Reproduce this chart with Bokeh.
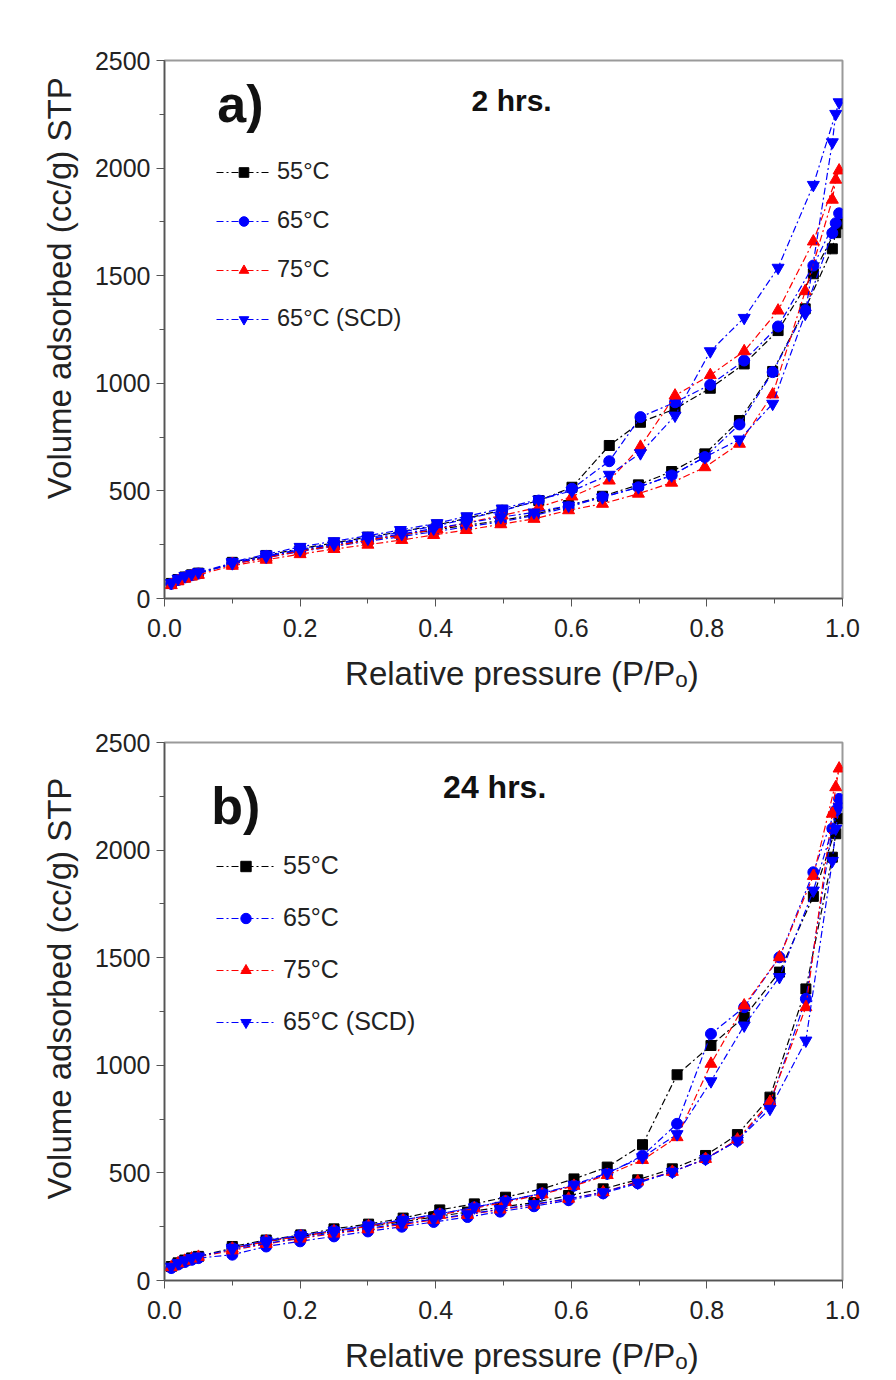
from bokeh.plotting import figure
from bokeh.models import Range1d, FixedTicker, Legend, LegendItem, Label, NumeralTickFormatter
from bokeh.layouts import column
from bokeh.embed import file_html
from bokeh.resources import INLINE

# ---------------- data ----------------
SERIES_LABELS = ["55°C", "65°C", "75°C", "65°C (SCD)"]
X_TICKS = [0.0, 0.2, 0.4, 0.6, 0.8, 1.0]
X_MINOR = [0.1, 0.3, 0.5, 0.7, 0.9]
Y_TICKS = [0, 500, 1000, 1500, 2000, 2500]
Y_MINOR = [250, 750, 1250, 1750, 2250]

# panel a) 2 hrs
A_X_ADS = [0.01, 0.02, 0.03, 0.04, 0.05, 0.10, 0.15, 0.20, 0.25, 0.30, 0.35, 0.397, 0.445,
           0.496, 0.545, 0.596, 0.646, 0.699, 0.748, 0.797, 0.848, 0.897, 0.945, 0.985, 0.99]
A_X_DES = [0.995, 0.957, 0.905, 0.855, 0.805, 0.753, 0.702, 0.656, 0.601, 0.552, 0.498,
           0.446, 0.402, 0.348, 0.30, 0.25, 0.20, 0.15, 0.10]
A_55_ADS = [70, 88, 100, 110, 118, 162, 192, 222, 248, 272, 295, 318, 340, 362, 390, 432, 475,
            528, 590, 672, 827, 1055, 1346, 1625, 1700]
A_55_DES = [1741, 1509, 1245, 1090, 977, 881, 819, 711, 517, 455, 410, 373, 342, 310, 285, 258,
            232, 200, 168]
A_65_ADS = [68, 86, 98, 108, 116, 160, 190, 218, 242, 266, 288, 310, 333, 356, 385, 425, 471,
            517, 572, 657, 809, 1052, 1340, 1698, 1744]
A_65_DES = [1790, 1547, 1264, 1106, 993, 912, 843, 638, 510, 455, 408, 370, 338, 308, 282, 255,
            228, 198, 165]
A_75_ADS = [62, 80, 92, 102, 110, 152, 180, 206, 230, 250, 272, 295, 318, 345, 370, 410, 440,
            487, 538, 610, 719, 948, 1428, 1853, 1946]
A_75_DES = [1989, 1659, 1338, 1149, 1038, 943, 705, 548, 474, 424, 386, 352, 322, 296, 270, 245,
            220, 190, 160]
A_SCD_ADS = [72, 92, 104, 114, 122, 164, 195, 226, 252, 278, 300, 325, 350, 378, 400, 432, 470,
             517, 572, 657, 739, 905, 1323, 2120, 2252]
A_SCD_DES = [2306, 1922, 1537, 1304, 1149, 850, 675, 575, 500, 460, 418, 382, 350, 318, 292, 266,
             240, 205, 170]

# panel b) 24 hrs
B_X_ADS = [0.01, 0.02, 0.03, 0.04, 0.05, 0.10, 0.15, 0.20, 0.25, 0.30, 0.35, 0.397, 0.447,
           0.495, 0.545, 0.596, 0.647, 0.698, 0.749, 0.798, 0.845, 0.893, 0.946, 0.985, 0.99]
B_X_DES = [0.995, 0.957, 0.907, 0.855, 0.806, 0.756, 0.705, 0.653, 0.604, 0.557, 0.503,
           0.457, 0.406, 0.352, 0.301, 0.25, 0.201, 0.15, 0.10]
B_55_ADS = [65, 82, 95, 105, 112, 150, 180, 205, 228, 250, 272, 295, 318, 340, 362, 395, 426,
            468, 519, 581, 678, 852, 1355, 1967, 2076]
B_55_DES = [2146, 1785, 1433, 1224, 1092, 956, 631, 527, 472, 426, 387, 356, 328, 290, 262, 240,
            212, 188, 158]
B_65_ADS = [58, 74, 86, 96, 104, 120, 158, 182, 205, 228, 250, 272, 295, 320, 345, 373, 405,
            452, 505, 565, 650, 820, 1309, 2100, 2184]
B_65_DES = [2238, 1897, 1502, 1270, 1146, 728, 580, 496, 441, 405, 370, 340, 310, 282, 255, 232,
            210, 185, 150]
B_75_ADS = [62, 80, 92, 102, 110, 140, 170, 195, 218, 238, 260, 282, 305, 330, 352, 380, 410,
            460, 505, 565, 655, 830, 1270, 2169, 2292]
B_75_DES = [2379, 1880, 1502, 1278, 1007, 666, 560, 490, 440, 400, 365, 335, 305, 278, 252, 228,
            205, 182, 148]
B_SCD_ADS = [64, 82, 94, 104, 112, 145, 172, 198, 222, 242, 265, 285, 308, 332, 355, 380, 410,
             455, 505, 565, 650, 798, 1115, 1950, 2100]
B_SCD_DES = [2200, 1812, 1410, 1185, 926, 680, 573, 500, 445, 405, 370, 340, 310, 282, 256, 232,
             210, 185, 152]

# ---------------- style ----------------
FONT = "Liberation Sans"
STYLES = [
    dict(color="#000000", marker="square", size=10),
    dict(color="#0000ff", marker="circle", size=11),
    dict(color="#ff0000", marker="triangle", size=12),
    dict(color="#0000ff", marker="inverted_triangle", size=12),
]
DASH = "7 3 2 3"
NB = "\u00a0"


def make_panel(height, top, bottom, right, x_ads, x_des, series, letter, title,
               title_x, title_size, letter_x, letter_y, title_y, leg_spacing, leg_gh,
               leg_glyph_w, leg_standoff, leg_loc, leg_font, ylabel_pad, xlabel_pad):
    p = figure(width=896, height=height, x_range=Range1d(0, 1.0), y_range=Range1d(0, 2500),
               output_backend="svg", toolbar_location=None,
               min_border_left=164, min_border_right=right,
               min_border_top=top, min_border_bottom=bottom)
    p.background_fill_color = "white"
    p.border_fill_color = "white"
    p.xgrid.visible = False
    p.ygrid.visible = False
    p.outline_line_color = "#9a9a9a"
    p.outline_line_width = 2

    p.xaxis.ticker = FixedTicker(ticks=X_TICKS, minor_ticks=X_MINOR)
    p.yaxis.ticker = FixedTicker(ticks=Y_TICKS, minor_ticks=Y_MINOR)
    p.xaxis.formatter = NumeralTickFormatter(format="0.0")
    p.yaxis.formatter = NumeralTickFormatter(format="0")
    for ax in (p.xaxis, p.yaxis):
        ax.axis_line_color = "#555555"
        ax.axis_line_width = 1.5
        ax.major_tick_line_color = "#555555"
        ax.minor_tick_line_color = "#555555"
        ax.major_tick_in = 0
        ax.major_tick_out = 8
        ax.minor_tick_in = 0
        ax.minor_tick_out = 5
        ax.major_label_text_font = FONT
        ax.major_label_text_font_size = "25px"
        ax.major_label_text_color = "#222222"
        ax.axis_label_text_font = FONT
        ax.axis_label_text_font_style = "normal"
        ax.axis_label_text_font_size = "33px"
        ax.axis_label_text_color = "#222222"
    p.yaxis.axis_label = NB * ylabel_pad + "Volume adsorbed (cc/g) STP"
    p.yaxis.axis_label_standoff = 14
    p.yaxis.major_label_standoff = 6
    p.xaxis.axis_label = NB * xlabel_pad + "Relative pressure (P/P\u2092)"
    p.xaxis.major_label_standoff = 12
    p.xaxis.axis_label_standoff = 15

    items = []
    for (lab, ads, des), st in zip(series, STYLES):
        xs = list(x_ads) + list(x_des)
        ys = list(ads) + list(des)
        lr = p.line(xs, ys, line_color=st["color"], line_dash=DASH, line_width=1.2)
        sr = p.scatter(xs, ys, marker=st["marker"], size=st["size"],
                       fill_color=st["color"], line_color=st["color"])
        items.append(LegendItem(label=lab, renderers=[lr, sr]))

    leg = Legend(items=items, location=leg_loc, background_fill_alpha=0,
                 border_line_alpha=0, padding=0, margin=0, spacing=leg_spacing,
                 glyph_height=leg_gh, label_height=leg_gh, glyph_width=leg_glyph_w,
                 label_standoff=leg_standoff, label_text_font=FONT,
                 label_text_font_size=leg_font, label_text_color="#222222")
    p.add_layout(leg, "center")

    p.add_layout(Label(x=letter_x, y=letter_y, text=letter, text_font=FONT,
                       text_font_size="52px", text_font_style="bold",
                       text_align="center", text_baseline="middle", text_color="#111111"))
    p.add_layout(Label(x=title_x, y=title_y, text=title, text_font=FONT,
                       text_font_size=title_size, text_font_style="bold",
                       text_align="center", text_baseline="middle", text_color="#111111"))
    return p


series_a = [(SERIES_LABELS[0], A_55_ADS, A_55_DES), (SERIES_LABELS[1], A_65_ADS, A_65_DES),
            (SERIES_LABELS[2], A_75_ADS, A_75_DES), (SERIES_LABELS[3], A_SCD_ADS, A_SCD_DES)]
series_b = [(SERIES_LABELS[0], B_55_ADS, B_55_DES), (SERIES_LABELS[1], B_65_ADS, B_65_DES),
            (SERIES_LABELS[2], B_75_ADS, B_75_DES), (SERIES_LABELS[3], B_SCD_ADS, B_SCD_DES)]

pa = make_panel(700, 60, 102, 54, A_X_ADS, A_X_DES, series_a, "a)", "2 hrs.",
                0.512, "30px", 0.112, 2300, 2314, 22, 24, 55, 6, (52, 266), "23.5px", 9, 4)
pb = make_panel(680, 42, 100, 48, B_X_ADS, B_X_DES, series_b, "b)", "24 hrs.",
                0.487, "32px", 0.105, 2207, 2291, 23, 26, 59, 8, (52, 244), "25px", 5, 4)

layout = column(pa, pb, spacing=0)
open("out.html", "w").write(file_html(layout, INLINE))
